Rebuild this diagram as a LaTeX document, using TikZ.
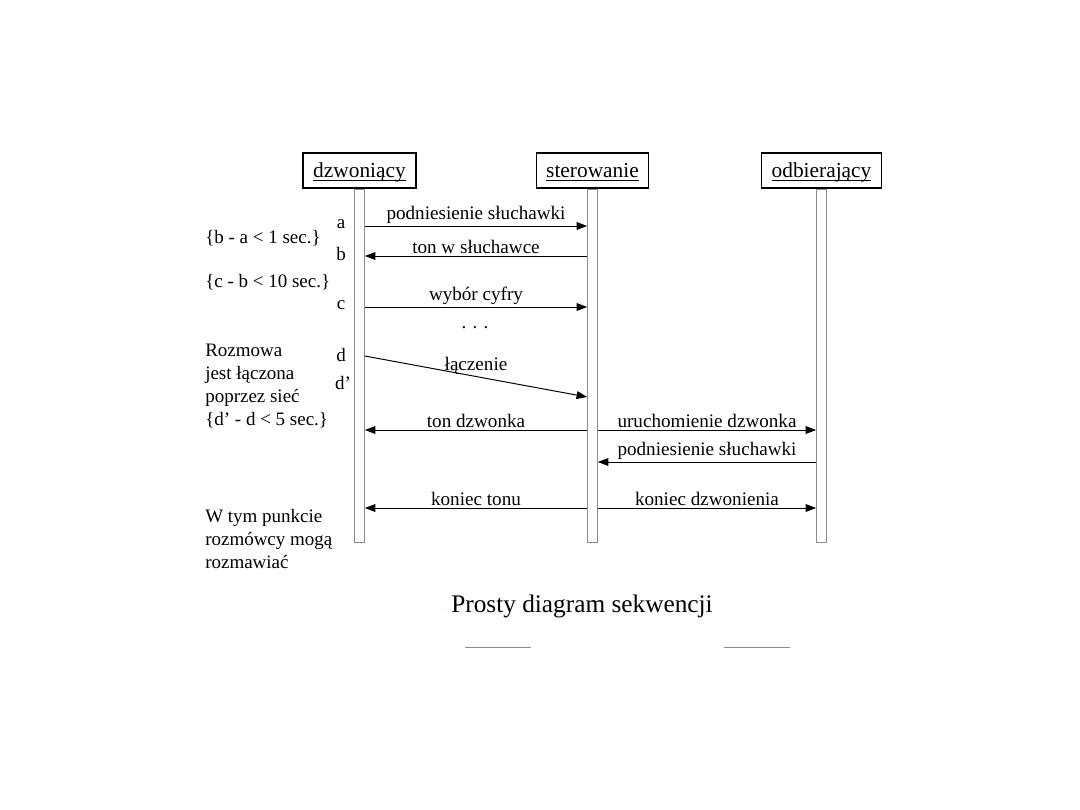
\documentclass[tikz,border=0pt]{standalone}
\usepackage{fontspec}
\setmainfont{Liberation Serif}
\usetikzlibrary{arrows.meta,positioning}
\newcommand{\ulname}[1]{\underline{\smash{#1}}}

\begin{document}
\begin{tikzpicture}[
    x=0.025cm, y=-0.025cm,
    >={Triangle[length=7.5pt,width=5.5pt]},
    actor/.style={draw=black, line width=0.9pt, minimum width=#1, minimum height=0.875cm, inner sep=0pt, text height=11pt, text depth=0.4pt, font=\fontsize{15.2}{18}\selectfont},
    lifeline/.style={draw=black!45, line width=0.8pt, fill=white, minimum width=0.24cm, minimum height=8.825cm, inner sep=0pt},
    msg/.style={->, line width=0.7pt},
    msglabel/.style={midway, above, inner sep=1.5pt, font=\fontsize{13.6}{16}\selectfont},
    note/.style={anchor=west, inner sep=0pt, align=left, font=\fontsize{13.5}{16.3}\selectfont},
    mark label/.style={inner sep=0pt, font=\fontsize{13.5}{16}\selectfont},
]
\useasboundingbox (0,0) rectangle (1080,810);

% ============ ACTORS ============
\node[actor=2.825cm] (dzw) at (359.5,170.5) {\ulname{dzwoniący}};
\node[actor=2.8cm] (ster) at (592.5,170.5) {\ulname{sterowanie}};
\node[actor=3.0cm] (odb) at (821.5,170.5) {\ulname{odbierający}};

% ============ LIFELINES ============
\node[lifeline, below=0pt of dzw] (dzl) {};
\node[lifeline, below=0pt of ster] (stl) {};
\node[lifeline, below=0pt of odb] (odl) {};

% message levels
\coordinate (ya) at (0,226);
\coordinate (yb) at (0,256);
\coordinate (yc) at (0,307);
\coordinate (yd) at (0,356);
\coordinate (yd2) at (0,397);
\coordinate (ye) at (0,430);
\coordinate (yf) at (0,462);
\coordinate (yg) at (0,508);

% ============ MESSAGES ============
\draw[msg] (dzl.east |- ya) -- node[msglabel] {podniesienie słuchawki} (stl.west |- ya);
\draw[msg] (stl.west |- yb) -- node[msglabel] {ton w słuchawce} (dzl.east |- yb);
\draw[msg] (dzl.east |- yc) -- node[msglabel] {wybór cyfry} (stl.west |- yc);
\node[mark label] (dots) at (475,328) {. . .};
\draw[msg] (dzl.east |- yd) -- node[msglabel] {łączenie} (stl.west |- yd2);
\draw[msg] (stl.west |- ye) -- node[msglabel] {ton dzwonka} (dzl.east |- ye);
\draw[msg] (stl.east |- ye) -- node[msglabel] {uruchomienie dzwonka} (odl.west |- ye);
\draw[msg] (odl.west |- yf) -- node[msglabel] {podniesienie słuchawki} (stl.east |- yf);
\draw[msg] (stl.west |- yg) -- node[msglabel] {koniec tonu} (dzl.east |- yg);
\draw[msg] (stl.east |- yg) -- node[msglabel] {koniec dzwonienia} (odl.west |- yg);

% ============ TIME MARKS ============
\node[mark label] (ma) at (341,224) {a};
\node[mark label] (mb) at (341,254) {b};
\node[mark label] (mc) at (341,305) {c};
\node[mark label] (md) at (341,355) {d};
\node[mark label] (md2) at (343,383) {d’};

% ============ CONSTRAINTS ============
\node[note] (cba) at (205,238) {\{b - a < 1 sec.\}};
\node[note] (ccb) at (205,282) {\{c - b < 10 sec.\}};
\node[note, anchor=north west] (cdd) at (205,344) {Rozmowa\\jest łączona\\poprzez sieć\\\{d’ - d < 5 sec.\}};
\node[note, anchor=north west] (talk) at (205,509) {W tym punkcie\\rozmówcy mogą\\rozmawiać};

% ============ CAPTION ============
\node[font=\fontsize{18}{21}\selectfont] (caption) at (582,606) {Prosty diagram sekwencji};
\node[font=\tiny, text=black!40, inner sep=0pt] (speck) at (443,610) {.};
\draw[black!45, line width=0.7pt] (465,647) -- (531,647);
\draw[black!45, line width=0.7pt] (724,647) -- (790,647);

\end{tikzpicture}
\end{document}
